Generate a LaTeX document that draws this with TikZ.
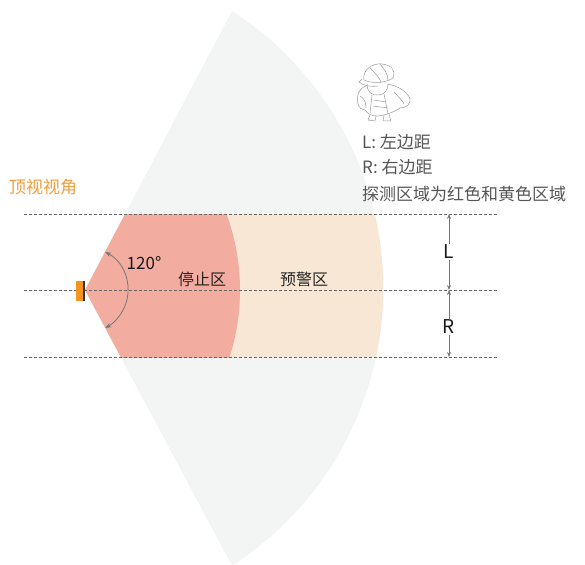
\documentclass[tikz,border=0pt]{standalone}
\usepackage{fontspec}
\setmainfont{Noto Sans CJK SC}
\usetikzlibrary{arrows.meta}
\definecolor{fanfill}{HTML}{F3F4F4}
\definecolor{stopfill}{HTML}{F2ACA0}
\definecolor{warnfill}{HTML}{F7E7D4}
\definecolor{sensor}{HTML}{F7941D}
\definecolor{guide}{HTML}{666666}
\definecolor{arrowgray}{HTML}{777777}
\definecolor{titleorange}{HTML}{F39C3C}
\definecolor{notegray}{HTML}{555555}
\definecolor{sketch}{HTML}{9A9A9A}
\tikzset{
  guideline/.style={draw=guide, line width=1pt, dash pattern=on 3pt off 2pt},
  zonelabel/.style={font=\fontsize{16}{18}\selectfont, text=black!85},
  dimlabel/.style={font=\fontsize{19}{21}\selectfont, text=black!90, inner sep=1pt},
  dimarrow/.style={draw=arrowgray, line width=0.8pt, -{Stealth[length=5pt,width=4pt]}},
  notetext/.style={font=\fontsize{17}{19}\selectfont, text=notegray, anchor=west, inner sep=0pt},
  sketchline/.style={draw=sketch, line width=0.5pt, line join=round, line cap=round},
}
\begin{document}
\begin{tikzpicture}[x=1pt,y=-1pt]
\useasboundingbox (0,0) rectangle (585,564);

% detection fan
\path[fill=fanfill] (85,290) -- (232,11) arc[start angle=-57.2, end angle=57.2, radius=330] -- cycle;

% zones inside the corridor between the side limits
\begin{scope}
  \clip (0,214) rectangle (585,357);
  \clip (85,290) -- (232,11) arc[start angle=-57.2, end angle=57.2, radius=330] -- cycle;
  \fill[warnfill] (0,214) rectangle (585,357);
  \fill[stopfill] (21,290) circle[radius=219];
\end{scope}

% guide lines
\coordinate (Ltop) at (449,214);
\coordinate (Lmid) at (449,290);
\coordinate (Rbot) at (449,357);
\draw[guideline] (24,214) -- (497,214);
\draw[guideline] (24,290) -- (497,290);
\draw[guideline] (24,357) -- (497,357);

% sensor
\fill[sensor] (76,281) rectangle (83,301);
\fill[black!80] (83,281) rectangle (85,301);
\coordinate (apex) at (85,290);

% field-of-view angle
\draw[arrowgray, line width=0.8pt, {Stealth[length=6pt,width=4.5pt]}-{Stealth[length=6pt,width=4.5pt]}]
  (105.2,252) arc[start angle=-62, end angle=62, radius=43];
\node[font=\fontsize{17}{19}\selectfont, text=black!90] (ang) at (144,263) {120°};

% zone labels
\node[zonelabel] (stop) at (202,279) {停止区};
\node[zonelabel] (warn) at (304,279) {预警区};

% side distances
\node[dimlabel] (L) at (449,252) {L};
\node[dimlabel] (R) at (449,327) {R};
\draw[dimarrow] (L.north) -- (Ltop);
\draw[dimarrow] (L.south) -- (Lmid);
\draw[dimarrow] (R.north) -- (Lmid);
\draw[dimarrow] (R.south) -- (Rbot);

% title
\node[font=\fontsize{17}{19}\selectfont, text=titleorange, anchor=west, inner sep=0pt] (title) at (9,187) {顶视视角};

% notes
\node[notetext] (n1) at (362,142) {L: 左边距};
\node[notetext] (n2) at (362,167) {R: 右边距};
\node[notetext] (n3) at (362,194) {探测区域为红色和黄色区域};

% worker sketch
\begin{scope}[sketchline]
  % helmet
  \draw (364,80) .. controls (362,70) and (372,63) .. (382,64) .. controls (392,65) and (396,71) .. (393,78);
  \draw (364,80) .. controls (372,84) and (386,83) .. (393,78);
  \draw (370,68) .. controls (376,74) and (380,78) .. (381,83);
  \draw (380,64) .. controls (385,70) and (388,74) .. (388,81);
  \draw (362,79) -- (359,82) .. controls (363,86) and (372,87) .. (378,86);
  % face and neck
  \draw (367,84) .. controls (367,92) and (372,96) .. (379,95) .. controls (385,94) and (388,90) .. (388,84);
  % shoulders and torso
  \draw (366,86) .. controls (359,88) and (356,96) .. (358,104) .. controls (359,108) and (362,110) .. (365,110);
  \draw (388,84) .. controls (398,86) and (408,92) .. (410,99) .. controls (411,104) and (406,108) .. (400,108);
  \draw (365,110) .. controls (368,114) and (372,116) .. (376,116);
  \draw (376,116) .. controls (384,116) and (394,112) .. (400,108);
  \draw (372,95) -- (370,113);
  \draw (384,94) -- (388,114);
  \draw (360,96) .. controls (364,98) and (366,102) .. (366,108);
  \draw (394,92) .. controls (398,96) and (402,100) .. (404,104);
  \draw (374,100) -- (386,102);
  \draw (373,106) -- (388,108);
  % feet
  \draw (370,115) -- (368,120) -- (375,121) -- (376,116);
  \draw (384,115) -- (383,121) -- (391,121) -- (389,114);
\end{scope}
\end{tikzpicture}
\end{document}
